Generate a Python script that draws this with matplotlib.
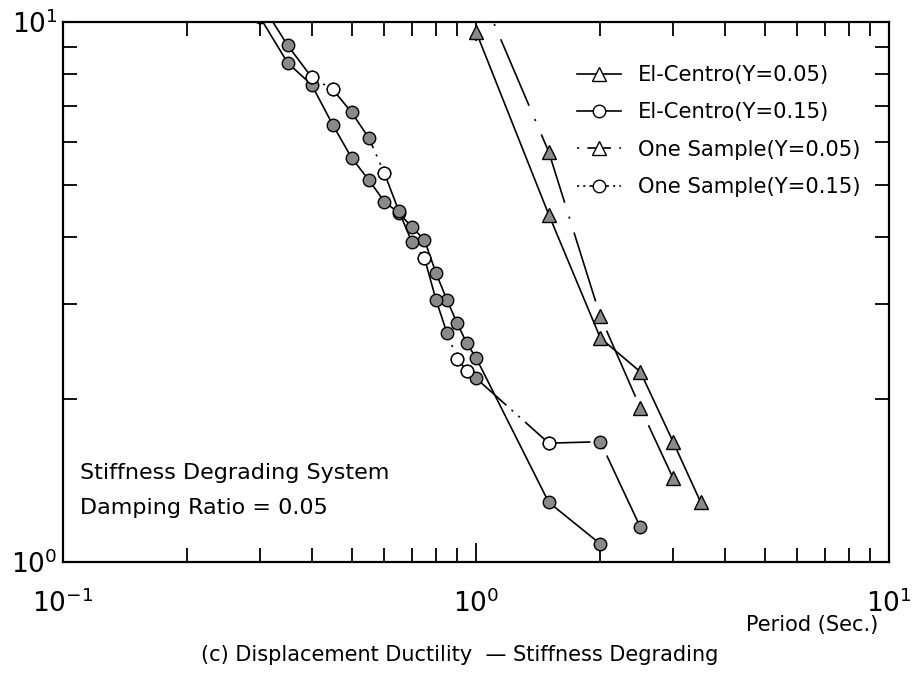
import matplotlib
matplotlib.use("Agg")
import matplotlib.pyplot as plt
from matplotlib.lines import Line2D

plt.rcParams['font.family'] = ['DejaVu Sans']
plt.rcParams['lines.scale_dashes'] = False

# El-Centro, Y=0.05 (solid, triangles)
period_ec05 = [1.0, 1.5, 2.0, 2.5, 3.0, 3.5]
duct_ec05 = [9.6, 4.4, 2.6, 2.25, 1.67, 1.29]

# El-Centro, Y=0.15 (solid, circles)
period_ec15 = [0.3, 0.35, 0.4, 0.45, 0.5, 0.55, 0.6, 0.65, 0.7, 0.75, 0.8,
               0.85, 0.9, 0.95, 1.0, 1.5, 2.0]
duct_ec15 = [10.2, 8.4, 7.65, 6.45, 5.6, 5.1, 4.65, 4.43, 4.17, 3.95, 3.43,
             3.06, 2.77, 2.54, 2.39, 1.29, 1.08]

# One Sample, Y=0.05 (dashed, triangles)
period_os05 = [1.0, 1.5, 2.0, 2.5, 3.0]
duct_os05 = [11.9, 5.75, 2.85, 1.93, 1.43]

# One Sample, Y=0.15 (dashed, circles)
period_os15 = [0.3, 0.35, 0.4, 0.45, 0.5, 0.55, 0.6, 0.65, 0.7, 0.75, 0.8,
               0.85, 0.9, 0.95, 1.0, 1.5, 2.0, 2.5]
duct_os15 = [10.9, 9.05, 7.9, 7.5, 6.8, 6.1, 5.25, 4.47, 3.91, 3.66, 3.06,
             2.66, 2.38, 2.26, 2.19, 1.66, 1.67, 1.16]

labels = ['El-Centro(Y=0.05)', 'El-Centro(Y=0.15)',
          'One Sample(Y=0.05)', 'One Sample(Y=0.15)']

# markers drawn hollow on the one-sample curve
open_idx = [2, 3, 6, 9, 12, 13, 15]

grey = '#8a8a8a'
dash05 = (43, (52, 10.5, 1.5, 10.5))
dash15 = (60, (53, 5, 1.5, 5, 1.5, 5))

fig = plt.figure(figsize=(9.2, 6.73), dpi=100)
ax = fig.add_axes([63/920, 1 - 562/673, (889 - 63)/920, (562 - 22)/673])

common = dict(color='black', lw=1.2, mfc=grey, mec='black', mew=1.0)
ax.plot(period_ec05, duct_ec05, marker='^', ms=10, ls='-', **common)
ax.plot(period_ec15, duct_ec15, marker='o', ms=9, ls='-', **common)
ax.plot(period_os05, duct_os05, marker='^', ms=10, ls=dash05, **common)
ax.plot(period_os15, duct_os15, marker='o', ms=9, ls=dash15, **common)
ax.plot([period_os15[i] for i in open_idx], [duct_os15[i] for i in open_idx],
        ls='none', marker='o', ms=9, mfc='white', mec='black', mew=1.0)

ax.set_xscale('log')
ax.set_yscale('log')
ax.set_xlim(0.1, 10)
ax.set_ylim(1, 10)

for s in ax.spines.values():
    s.set_linewidth(1.6)
ax.tick_params(which='both', direction='in', top=True, right=True,
               labelsize=19, width=1.3)
ax.tick_params(which='major', length=14)
ax.tick_params(axis='x', which='major', pad=20)
ax.tick_params(axis='y', which='major', pad=4)
ax.tick_params(which='minor', length=10)
ax.yaxis.set_minor_formatter(plt.NullFormatter())
ax.xaxis.set_minor_formatter(plt.NullFormatter())

# legend handles with short patterns so the dash style shows
hkw = dict(color='black', lw=1.2, mfc='white', mec='black', mew=1.0)
handles = [
    Line2D([], [], marker='^', ms=10, ls='-', **hkw),
    Line2D([], [], marker='o', ms=9, ls='-', **hkw),
    Line2D([], [], marker='^', ms=10, ls=(0, (1.5, 6, 17, 6, 1.5, 40)), **hkw),
    Line2D([], [], marker='o', ms=9,
           ls=(0, (1.5, 3, 1.5, 3, 14, 3, 1.5, 3, 1.5, 40)), **hkw),
]
ax.legend(handles, labels, loc='upper left', frameon=False,
          fontsize=15.2, handlelength=2.1, handletextpad=0.8,
          labelspacing=0.82, borderpad=0, borderaxespad=0,
          bbox_to_anchor=(577/920, 1 - 65/673),
          bbox_transform=fig.transFigure)

fig.text(80/920, 1 - 473/673, 'Stiffness Degrading System', fontsize=16,
         va='center', ha='left')
fig.text(80/920, 1 - 508/673, 'Damping Ratio = 0.05', fontsize=16,
         va='center', ha='left')
fig.text(878/920, 1 - 625/673, 'Period (Sec.)', fontsize=15,
         va='center', ha='right')
fig.text(460/920, 1 - 655/673,
         '(c) Displacement Ductility  \u2014 Stiffness Degrading',
         fontsize=15, va='center', ha='center')

fig.savefig('out.png', dpi=100)
